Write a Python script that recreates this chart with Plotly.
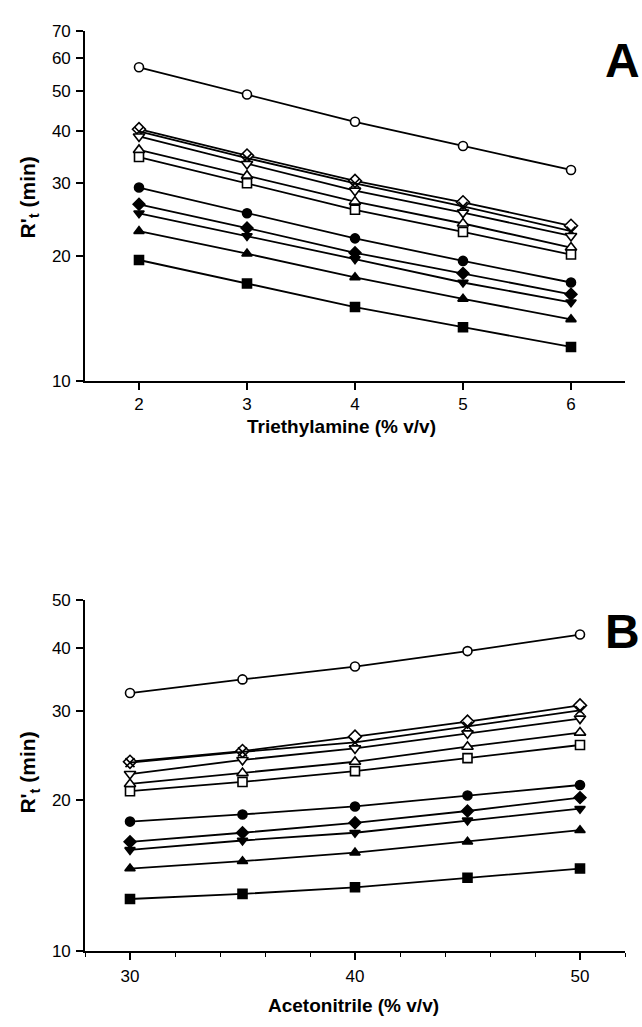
import plotly.graph_objects as go
import math

# ---------------- data ----------------
x_tea = [2, 3, 4, 5, 6]            # Triethylamine (% v/v)
x_acn = [30, 35, 40, 45, 50]       # Acetonitrile (% v/v)

# Panel A (retention vs triethylamine)
a_open_circle   = [57.1, 49.1, 42.2, 36.9, 32.3]
a_open_diamond  = [40.5, 35.0, 30.4, 27.0, 23.7]
a_cross         = [40.0, 34.5, 30.0, 26.4, 23.0]
a_open_down     = [38.9, 33.4, 28.8, 25.5, 22.4]
a_open_up       = [36.1, 31.3, 27.1, 24.0, 21.0]
a_open_square   = [34.7, 30.0, 25.9, 22.9, 20.2]
a_fill_circle   = [29.3, 25.4, 22.1, 19.5, 17.3]
a_fill_diamond  = [26.7, 23.4, 20.4, 18.2, 16.2]
a_fill_down     = [25.4, 22.4, 19.7, 17.3, 15.5]
a_fill_up       = [23.0, 20.3, 17.8, 15.8, 14.1]
a_fill_square   = [19.6, 17.2, 15.1, 13.5, 12.1]

# Panel B (retention vs acetonitrile)
b_open_circle   = [32.6, 34.7, 36.8, 39.5, 42.6]
b_open_diamond  = [23.8, 25.0, 26.7, 28.6, 30.8]
b_cross         = [23.7, 24.9, 26.0, 28.0, 30.1]
b_open_down     = [22.5, 24.0, 25.3, 27.1, 29.0]
b_open_up       = [21.5, 22.6, 23.8, 25.5, 27.2]
b_open_square   = [20.8, 21.7, 22.8, 24.2, 25.7]
b_fill_circle   = [18.1, 18.7, 19.4, 20.4, 21.4]
b_fill_diamond  = [16.5, 17.2, 18.0, 19.0, 20.2]
b_fill_down     = [15.9, 16.6, 17.2, 18.2, 19.2]
b_fill_up       = [14.6, 15.1, 15.7, 16.5, 17.4]
b_fill_square   = [12.7, 13.0, 13.4, 14.0, 14.6]

a_yticks = [10, 20, 30, 40, 50, 60, 70]
b_yticks = [10, 20, 30, 40, 50]
a_xticks = [2, 3, 4, 5, 6]
b_xticks = [30, 40, 50]

# ---------------- styles ----------------
styles = [
    ("circle", "white", 9),
    ("diamond", "white", 10),
    ("x-thin", "black", 9),
    ("triangle-down", "white", 10),
    ("triangle-up", "white", 10),
    ("square", "white", 9),
    ("circle", "black", 9),
    ("diamond", "black", 9),
    ("triangle-down", "black", 9),
    ("triangle-up", "black", 9),
    ("square", "black", 9),
]

a_series = [a_open_circle, a_open_diamond, a_cross, a_open_down, a_open_up,
            a_open_square, a_fill_circle, a_fill_diamond, a_fill_down,
            a_fill_up, a_fill_square]
b_series = [b_open_circle, b_open_diamond, b_cross, b_open_down, b_open_up,
            b_open_square, b_fill_circle, b_fill_diamond, b_fill_down,
            b_fill_up, b_fill_square]

fig = go.Figure()

def add(xs, ys, style, xa, ya):
    sym, fill, size = style
    fig.add_trace(go.Scatter(
        x=xs, y=ys, mode="lines+markers", xaxis=xa, yaxis=ya,
        line=dict(color="black", width=1.8),
        marker=dict(symbol=sym, size=size, color=fill,
                    line=dict(color="black", width=1.6)),
        showlegend=False, hoverinfo="skip", cliponaxis=False))

for ys, st in zip(a_series, styles):
    add(x_tea, ys, st, "x", "y")
for ys, st in zip(b_series, styles):
    add(x_acn, ys, st, "x2", "y2")

W, H = 642, 1027
font = "Liberation Sans, Arial, Helvetica, sans-serif"

def px_x(p):
    return p / W

def px_y(p):
    return 1 - p / H

axis_common = dict(showline=True, linecolor="black", linewidth=1.6,
                   ticks="outside", ticklen=7, tickwidth=1.6, tickcolor="black",
                   showgrid=False, zeroline=False,
                   tickfont=dict(family=font, size=17, color="black"))

xdom = [px_x(85), px_x(625)]

fig.update_layout(
    width=W, height=H,
    margin=dict(l=0, r=0, t=0, b=0),
    paper_bgcolor="white", plot_bgcolor="white",
    xaxis=dict(domain=xdom, range=[1.5, 6.5], anchor="y",
               tickvals=a_xticks, ticklabelstandoff=0, **axis_common),
    yaxis=dict(domain=[px_y(379.3), px_y(22)], type="log",
               range=[1, math.log10(70)], anchor="x",
               tickvals=a_yticks, ticktext=[str(v) for v in a_yticks],
               ticklabelstandoff=2, **axis_common),
    xaxis2=dict(domain=xdom, range=[28, 52], anchor="y2",
                tickvals=b_xticks, ticklabelstandoff=2,
                minor=dict(dtick=2, tick0=28, ticks="outside", ticklen=4,
                           tickwidth=1.4, tickcolor="black"),
                **axis_common),
    yaxis2=dict(domain=[px_y(960), px_y(601.7)], type="log",
                range=[1, math.log10(50)], anchor="x2",
                tickvals=b_yticks, ticktext=[str(v) for v in b_yticks],
                ticklabelstandoff=2, **axis_common),
)

ytitle_font = dict(family=font, size=21, color="black")
xtitle_font = dict(family=font, size=19, color="black")
ann = [
    dict(text="<b>R'<sub>t</sub> (min)</b>", x=px_x(29), y=px_y(192),
         textangle=-90, font=ytitle_font, xanchor="center", yanchor="middle"),
    dict(text="<b>R'<sub>t</sub> (min)</b>", x=px_x(29), y=px_y(778),
         textangle=-90, font=ytitle_font, xanchor="center", yanchor="middle"),
    dict(text="<b>Triethylamine (% v/v)</b>", x=px_x(341), y=px_y(425),
         font=xtitle_font, xanchor="center", yanchor="middle"),
    dict(text="<b>Acetonitrile (% v/v)</b>", x=px_x(354), y=px_y(1015),
         font=xtitle_font, xanchor="center", yanchor="middle"),
    dict(text="<b>A</b>", x=px_x(641), y=px_y(52),
         font=dict(family=font, size=48, color="black"),
         xanchor="right", yanchor="middle"),
    dict(text="<b>B</b>", x=px_x(641), y=px_y(634),
         font=dict(family=font, size=48, color="black"),
         xanchor="right", yanchor="middle"),
]
for a in ann:
    a.update(xref="paper", yref="paper", showarrow=False, borderpad=0)
fig.update_layout(annotations=ann)

fig.write_html("out.html")
